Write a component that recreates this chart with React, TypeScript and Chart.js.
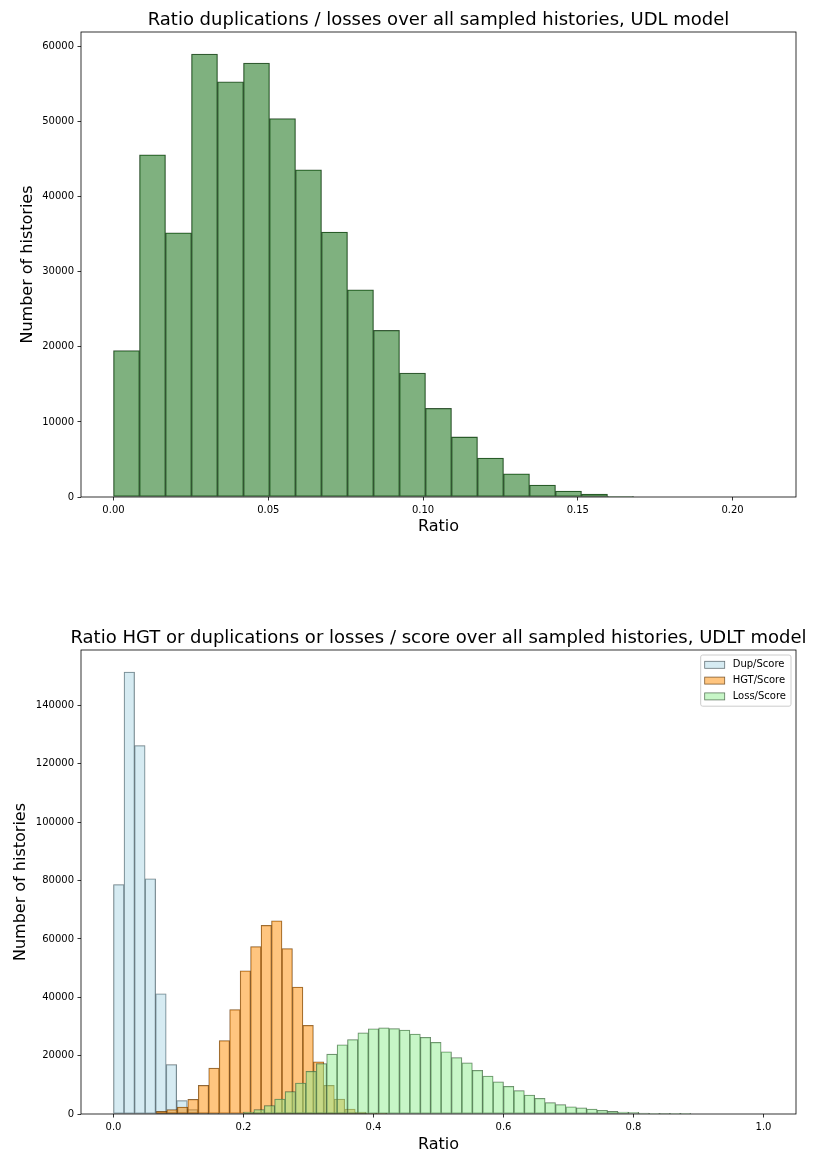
import React, { useEffect, useRef } from 'react';
import { Chart, registerables } from 'chart.js';

Chart.register(...registerables);

const FONT = '"DejaVu Sans", "Liberation Sans", sans-serif';

// ---------- Top chart: UDL model ----------
const udlTitle = 'Ratio duplications / losses over all sampled histories, UDL model';
const udlBinStart = 0;
const udlBinWidth = 0.0084;
const udlCounts = [
  19500, 45600, 35200, 59000, 55300, 57800, 50400, 43600, 35300, 27600,
  22200, 16500, 11800, 8000, 5200, 3100, 1600, 800, 400, 100,
  0, 0, 0, 0, 0,
];
const udlXTicks = [0, 0.05, 0.1, 0.15, 0.2];
const udlYTicks = [0, 10000, 20000, 30000, 40000, 50000, 60000];
const udlXRange = [-0.0105, 0.2205];

// ---------- Bottom chart: UDLT model ----------
const udltTitle = 'Ratio HGT or duplications or losses / score over all sampled histories, UDLT model';
const dupLabel = 'Dup/Score';
const dupBinStart = 0;
const dupBinWidth = 0.0162;
const dupCounts = [78650, 151450, 126300, 80600, 41200, 16900, 4600, 1500, 400, 100, 0, 0];

const hgtLabel = 'HGT/Score';
const hgtBinStart = 0.066;
const hgtBinWidth = 0.0161;
const hgtCounts = [
  900, 1500, 2400, 5000, 9800, 15700, 25200, 35800, 49100, 57400,
  64700, 66200, 56700, 43500, 30400, 17900, 9800, 5100, 1700, 700,
  200, 60, 0,
];

const lossLabel = 'Loss/Score';
const lossBinStart = 0.2;
const lossBinWidth = 0.016;
const lossCounts = [
  690, 1490, 2860, 5150, 7660, 10630, 14640, 17270, 20500, 23700,
  25500, 27800, 29200, 29500, 29300, 28800, 27400, 26300, 24600, 21300,
  19300, 17500, 15000, 13000, 11000, 9500, 8000, 6500, 5400, 3900,
  3200, 2500, 2100, 1700, 1300, 900, 700, 570, 340, 230,
  200, 110, 40, 0, 0, 0, 0, 0, 0, 0,
];
const udltXTicks = [0, 0.2, 0.4, 0.6, 0.8, 1.0];
const udltYTicks = [0, 20000, 40000, 60000, 80000, 100000, 120000, 140000];
const udltXRange = [-0.05, 1.05];

function toPoints(start: number, width: number, counts: number[]) {
  return counts.map((c, i) => ({ x: start + (i + 0.5) * width, y: c }));
}

function histDataset(label: string, start: number, width: number, counts: number[], bg: string, edge: string, order: number) {
  return {
    label,
    data: toPoints(start, width, counts),
    backgroundColor: bg,
    borderColor: edge,
    borderWidth: 0.6,
    borderSkipped: false as const,
    barThickness: 'flex' as const,
    categoryPercentage: 1,
    barPercentage: 1,
    stack: 'hist',
    order,
  };
}

type HistoProps = {
  top: number;
  height: number;
  padTop: number;
  xAxisH: number;
  xTitlePadBottom: number;
  yTitlePad: number;
  title: string;
  datasets: any[];
  xRange: number[];
  xTicks: number[];
  xDecimals: number;
  yTicks: number[];
  legend: boolean;
};

function Histo(p: HistoProps) {
  const ref = useRef<HTMLCanvasElement>(null);
  useEffect(() => {
    const allY: number[] = [];
    p.datasets.forEach((d) => d.data.forEach((pt: any) => allY.push(pt.y)));
    const yMax = Math.max(...allY) * 1.05;

    const decoPlugin = {
      id: 'deco',
      afterDatasetsDraw(chart: any) {
        const { ctx, chartArea: a } = chart;
        ctx.save();
        ctx.strokeStyle = '#000';
        ctx.lineWidth = 0.8;
        ctx.strokeRect(a.left, a.top, a.right - a.left, a.bottom - a.top);
        ctx.restore();
      },
      afterDraw(chart: any) {
        const { ctx, chartArea: a } = chart;
        ctx.save();
        ctx.fillStyle = '#000';
        ctx.font = `18px ${FONT}`;
        ctx.textAlign = 'center';
        ctx.textBaseline = 'alphabetic';
        ctx.fillText(p.title, (a.left + a.right) / 2, a.top - 7);
        if (p.legend) {
          ctx.font = `10px ${FONT}`;
          const items = chart.data.datasets.map((d: any) => ({ label: d.label, bg: d.backgroundColor, edge: d.borderColor }));
          const textW = Math.max(...items.map((it: any) => ctx.measureText(it.label).width));
          const pad = 4, handleW = 20, handleH = 7, gap = 8, rowH = 15.8;
          const w = pad + handleW + gap + textW + pad + 1;
          const h = pad * 2 + 11.6 + rowH * (items.length - 1);
          const right = a.right - 5;
          const left = right - w;
          const topY = a.top + 5;
          const r = 2;
          ctx.beginPath();
          ctx.moveTo(left + r, topY);
          ctx.lineTo(right - r, topY);
          ctx.arcTo(right, topY, right, topY + r, r);
          ctx.lineTo(right, topY + h - r);
          ctx.arcTo(right, topY + h, right - r, topY + h, r);
          ctx.lineTo(left + r, topY + h);
          ctx.arcTo(left, topY + h, left, topY + h - r, r);
          ctx.lineTo(left, topY + r);
          ctx.arcTo(left, topY, left + r, topY, r);
          ctx.closePath();
          ctx.fillStyle = 'rgba(255,255,255,0.8)';
          ctx.fill();
          ctx.strokeStyle = '#cccccc';
          ctx.lineWidth = 1;
          ctx.stroke();
          items.forEach((it: any, i: number) => {
            const cy = topY + pad + 5.8 + i * rowH;
            const hx = left + pad;
            ctx.fillStyle = it.bg;
            ctx.fillRect(hx, cy - handleH / 2, handleW, handleH);
            ctx.strokeStyle = it.edge;
            ctx.lineWidth = 0.8;
            ctx.strokeRect(hx, cy - handleH / 2, handleW, handleH);
            ctx.fillStyle = '#000';
            ctx.textAlign = 'left';
            ctx.textBaseline = 'middle';
            ctx.fillText(it.label, hx + handleW + gap, cy);
          });
        }
        ctx.restore();
      },
    };

    const chart = new Chart(ref.current!, {
      type: 'bar',
      data: { datasets: p.datasets },
      plugins: [decoPlugin],
      options: {
        animation: false,
        responsive: false,
        maintainAspectRatio: false,
        devicePixelRatio: 1,
        layout: { padding: { top: p.padTop, right: 41, left: 0, bottom: 0 } },
        plugins: {
          legend: { display: false, reverse: true },
          title: { display: false },
          tooltip: { enabled: false },
        },
        scales: {
          x: {
            type: 'linear',
            min: p.xRange[0],
            max: p.xRange[1],
            offset: false,
            border: { display: false },
            grid: {
              display: true,
              drawOnChartArea: false,
              drawTicks: true,
              tickLength: 3.5,
              tickWidth: 0.8,
              tickColor: '#000',
              offset: false,
            },
            ticks: {
              autoSkip: false,
              maxRotation: 0,
              padding: 3.5,
              color: '#000',
              font: { family: FONT, size: 10 },
              callback: (v: any) => Number(v).toFixed(p.xDecimals),
            },
            title: {
              display: true,
              text: 'Ratio',
              color: '#000',
              font: { family: FONT, size: 16 },
              padding: { top: 0, bottom: p.xTitlePadBottom },
            },
            afterBuildTicks: (axis: any) => {
              axis.ticks = p.xTicks.map((v) => ({ value: v }));
            },
            afterFit: (axis: any) => {
              axis.height = p.xAxisH;
            },
          },
          y: {
            type: 'linear',
            min: 0,
            max: yMax,
            stacked: false,
            border: { display: false },
            grid: {
              display: true,
              drawOnChartArea: false,
              drawTicks: true,
              tickLength: 3.5,
              tickWidth: 0.8,
              tickColor: '#000',
            },
            ticks: {
              autoSkip: false,
              padding: 3.5,
              color: '#000',
              font: { family: FONT, size: 10 },
              callback: (v: any) => String(v),
            },
            title: {
              display: true,
              text: 'Number of histories',
              color: '#000',
              font: { family: FONT, size: 16 },
              padding: { top: p.yTitlePad, bottom: 0 },
            },
            afterBuildTicks: (axis: any) => {
              axis.ticks = p.yTicks.map((v) => ({ value: v }));
            },
            afterFit: (axis: any) => {
              axis.width = 81;
            },
          },
        },
      } as any,
    });
    return () => chart.destroy();
  }, []);
  return (
    <canvas
      ref={ref}
      width={837}
      height={p.height}
      style={{ position: 'absolute', left: 0, top: p.top, width: 837, height: p.height }}
    />
  );
}

export default function App() {
  const topDatasets = [
    histDataset('UDL', udlBinStart, udlBinWidth, udlCounts, 'rgba(0,100,0,0.5)', 'rgba(0,33,0,0.75)', 0),
  ];
  const bottomDatasets = [
    histDataset(dupLabel, dupBinStart, dupBinWidth, dupCounts, 'rgba(173,216,230,0.5)', 'rgba(58,72,77,0.75)', 2),
    histDataset(hgtLabel, hgtBinStart, hgtBinWidth, hgtCounts, 'rgba(255,140,0,0.5)', 'rgba(85,47,0,0.75)', 1),
    histDataset(lossLabel, lossBinStart, lossBinWidth, lossCounts, 'rgba(144,238,144,0.5)', 'rgba(48,79,48,0.75)', 0),
  ];
  return (
    <div style={{ position: 'absolute', left: 0, top: 0, width: 837, height: 1155, background: '#fff' }}>
      <Histo
        top={0}
        height={545}
        padTop={32}
        xAxisH={48}
        xTitlePadBottom={8.4}
        yTitlePad={17.9}
        title={udlTitle}
        datasets={topDatasets}
        xRange={udlXRange}
        xTicks={udlXTicks}
        xDecimals={2}
        yTicks={udlYTicks}
        legend={false}
      />
      <Histo
        top={580}
        height={575}
        padTop={70}
        xAxisH={41}
        xTitlePadBottom={0.4}
        yTitlePad={11.4}
        title={udltTitle}
        datasets={bottomDatasets}
        xRange={udltXRange}
        xTicks={udltXTicks}
        xDecimals={1}
        yTicks={udltYTicks}
        legend={true}
      />
    </div>
  );
}
